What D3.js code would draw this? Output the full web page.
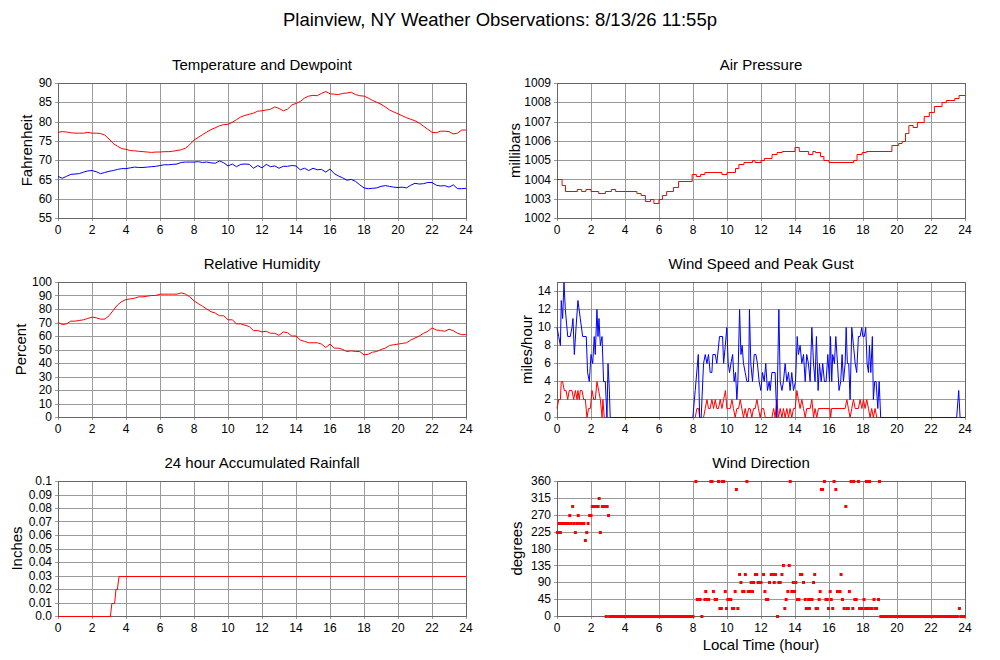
<!DOCTYPE html>
<html>
<head>
<meta charset="utf-8">
<script src="https://cdn.jsdelivr.net/npm/d3@7"></script>
<style>
  body { margin: 0; background: #fff; }
  text { font-family: "Liberation Sans", Arial, Helvetica, sans-serif; fill: #000; }
</style>
</head>
<body>
<svg id="chart" width="1000" height="660"></svg>
<script>
// ---- data (hours of local time) ----
const hourTicks = [0, 2, 4, 6, 8, 10, 12, 14, 16, 18, 20, 22, 24];

const quarterHours = [0, 0.25, 0.5, 0.75, 1, 1.25, 1.5, 1.75, 2, 2.25, 2.5, 2.75, 3, 3.25, 3.5, 3.75,
  4, 4.25, 4.5, 4.75, 5, 5.25, 5.5, 5.75, 6, 6.25, 6.5, 6.75, 7, 7.25, 7.5, 7.75,
  8, 8.25, 8.5, 8.75, 9, 9.25, 9.5, 9.75, 10, 10.25, 10.5, 10.75, 11, 11.25, 11.5, 11.75,
  12, 12.25, 12.5, 12.75, 13, 13.25, 13.5, 13.75, 14, 14.25, 14.5, 14.75, 15, 15.25, 15.5, 15.75,
  16, 16.25, 16.5, 16.75, 17, 17.25, 17.5, 17.75, 18, 18.25, 18.5, 18.75, 19, 19.25, 19.5, 19.75,
  20, 20.25, 20.5, 20.75, 21, 21.25, 21.5, 21.75, 22, 22.25, 22.5, 22.75, 23, 23.25, 23.5, 23.75, 24];

const temperature = [77.2, 77.4, 77.3, 77.1, 77.0, 77.0, 77.0, 77.2, 77.0, 77.0, 76.9, 76.5, 75.5, 74.3, 73.6, 73.0,
  72.8, 72.5, 72.4, 72.3, 72.2, 72.1, 72.0, 72.1, 72.1, 72.2, 72.2, 72.3, 72.5, 72.7, 73.1, 74.0,
  75.2, 75.9, 76.6, 77.3, 77.9, 78.4, 78.9, 79.2, 79.3, 79.8, 80.5, 81.2, 81.6, 81.9, 82.2, 82.7,
  82.8, 83.0, 83.2, 83.8, 83.4, 82.8, 83.2, 84.3, 84.7, 85.2, 86.1, 86.6, 86.8, 86.7, 87.3, 87.8,
  87.2, 87.1, 87.0, 87.3, 87.4, 87.6, 87.0, 86.7, 86.6, 86.1, 85.5, 85.0, 84.5, 83.8, 83.0, 82.5,
  82.0, 81.5, 81.0, 80.6, 80.2, 79.6, 78.8, 78.0, 77.2, 77.1, 77.5, 77.5, 77.4, 76.8, 77.0, 77.8, 77.8];

const dewpoint = [65.8, 65.3, 65.8, 66.3, 66.4, 66.5, 66.9, 67.2, 67.3, 67.0, 66.5, 66.8, 67.1, 67.3, 67.6, 67.8,
  67.8, 68.0, 68.2, 68.1, 68.1, 68.2, 68.3, 68.4, 68.6, 68.8, 68.8, 68.9, 69.0, 69.4, 69.5, 69.5,
  69.5, 69.6, 69.4, 69.5, 69.3, 69.2, 69.8, 69.3, 68.5, 69.0, 68.3, 68.9, 69.0, 68.9, 67.9, 68.6,
  68.0, 68.9, 68.3, 68.5, 67.9, 68.4, 68.4, 68.6, 68.5, 67.5, 67.9, 67.3, 67.9, 67.5, 67.6, 66.9,
  67.7, 66.5, 65.9, 65.4, 64.8, 65.0, 64.5, 63.6, 62.8, 62.6, 62.7, 62.8, 63.2, 63.4, 63.2, 63.0,
  62.9, 63.0, 62.8, 63.5, 64.0, 63.8, 63.9, 64.2, 64.2, 63.5, 63.3, 63.4, 63.0, 63.6, 62.6, 62.6, 62.7];

const humidity = [70, 68.5, 69, 71, 71, 71.5, 72, 73, 74, 73.5, 72.5, 72.5, 75, 79, 83, 85.5,
  87, 87.5, 88, 89, 89, 89.5, 90, 90, 91, 91, 91, 91, 91, 92, 91, 89,
  86, 84, 82, 80, 78, 77, 75, 75, 72, 72, 69, 69, 68, 67, 64, 64,
  63, 63.5, 62, 62, 60.5, 63, 62.5, 60, 60, 57, 56, 55, 55, 55, 54, 51.5,
  54, 51, 51, 50, 48.5, 49, 48.5, 48.5, 46, 46.5, 48, 48.5, 50, 51, 53, 53.5,
  54, 54.5, 55, 57, 58.5, 60, 62, 63.5, 66, 64.5, 64, 63.5, 65, 64, 62, 61, 61];

// pressure changes (step after)
const pressureTimes = [0, 0.3, 0.5, 1.2, 1.45, 1.7, 2.0, 2.45, 2.85, 3.2, 3.45, 4.7, 4.95, 5.2, 5.5, 5.7, 6.0, 6.2,
  6.45, 6.85, 7.15, 7.95, 8.2, 8.45, 8.7, 9.7, 10.0, 10.5, 10.7, 11.0, 11.5, 11.65, 12.0, 12.2, 12.65, 12.95,
  13.25, 14.0, 14.25, 14.8, 15.05, 15.2, 15.5, 15.7, 16.0, 17.45, 17.65, 17.95, 18.2, 19.7, 20.1, 20.3, 20.5,
  20.7, 20.95, 21.2, 21.6, 21.9, 22.2, 22.65, 22.9, 23.4, 23.65, 24];
const pressure = [1004.0, 1003.7, 1003.4, 1003.5, 1003.4, 1003.5, 1003.4, 1003.3, 1003.4, 1003.5, 1003.4, 1003.3,
  1003.2, 1002.9, 1003.0, 1002.8, 1003.0, 1003.2, 1003.4, 1003.6, 1003.9, 1004.3, 1004.2, 1004.3, 1004.4, 1004.3,
  1004.4, 1004.6, 1004.8, 1004.9, 1005.0, 1004.9, 1005.0, 1005.1, 1005.3, 1005.4, 1005.5, 1005.7, 1005.5, 1005.3,
  1005.5, 1005.4, 1005.2, 1005.0, 1004.9, 1005.0, 1005.3, 1005.4, 1005.5, 1005.8, 1005.9, 1006.0, 1006.4, 1006.8,
  1006.7, 1007.0, 1007.3, 1007.5, 1007.8, 1008.0, 1008.1, 1008.2, 1008.4, 1008.4];

const gustTimes = [0, 0.10, 0.20, 0.25, 0.33, 0.41, 0.49, 0.63, 0.78, 0.88, 0.94, 1.02, 1.12, 1.23, 1.37, 1.51, 1.72,
  1.80, 1.90, 2.00, 2.10, 2.19, 2.25, 2.35, 2.41, 2.47, 2.55, 2.65, 2.74, 2.84, 2.94, 3.00, 3.08, 3.13,
  7.99, 8.13, 8.31, 8.39, 8.48, 8.62, 8.72, 8.82, 8.91, 9.01, 9.11, 9.17, 9.31, 9.40, 9.56, 9.74, 9.80, 9.90,
  9.99, 10.07, 10.15, 10.23, 10.33, 10.42, 10.50, 10.58, 10.64, 10.74, 10.82, 10.89, 10.97, 11.07, 11.17,
  11.27, 11.32, 11.40, 11.50, 11.60, 11.70, 11.79, 11.89, 11.99, 12.09, 12.19, 12.28, 12.38, 12.48, 12.54,
  12.64, 12.83, 12.93, 13.05, 13.13, 13.23, 13.32, 13.42, 13.52, 13.62, 13.71, 13.81, 13.91, 14.03, 14.13,
  14.20, 14.30, 14.40, 14.50, 14.60, 14.69, 14.79, 14.89, 14.99, 15.09, 15.18, 15.26, 15.36, 15.44, 15.54,
  15.63, 15.73, 15.83, 15.93, 16.03, 16.09, 16.16, 16.22, 16.32, 16.40, 16.50, 16.59, 16.69, 16.77, 16.85,
  16.95, 17.01, 17.08, 17.16, 17.24, 17.34, 17.44, 17.54, 17.63, 17.73, 17.83, 17.93, 17.99, 18.08, 18.16,
  18.24, 18.32, 18.38, 18.46, 18.55, 18.61, 18.69, 18.77, 18.87, 18.95, 19.04, 23.51, 23.63, 23.71, 24];
const gust = [10, 9, 8, 13, 11, 15, 12, 9, 9, 10, 11, 7, 10, 13, 11, 9, 9,
  5, 4, 7, 6, 9, 7, 12, 9, 11, 8, 9, 4, 4, 0, 6, 3, 0,
  0, 3, 7, 0, 0, 6, 7, 6, 7, 5, 5, 7, 7, 6, 9, 9, 6, 8,
  10, 6, 5, 6, 7, 4, 5, 2, 4, 12, 7, 8, 6, 5, 4,
  4, 12, 6, 4, 7, 7, 6, 4, 3, 5, 4, 6, 3, 4, 3,
  5, 5, 0, 12, 4, 3, 4, 6, 4, 5, 3, 5, 3, 4, 9,
  7, 8, 6, 7, 4, 7, 6, 4, 10, 6, 4, 9, 3, 6, 4,
  6, 4, 4, 7, 4, 9, 4, 7, 6, 9, 6, 3, 4, 7, 4,
  6, 10, 6, 6, 2, 10, 8, 6, 5, 9, 9, 10, 9, 9, 10,
  6, 5, 8, 5, 9, 2, 4, 4, 1, 4, 0, 0, 3, 0, 0];

const speedTimes = [0, 0.10, 0.20, 0.25, 0.33, 0.43, 0.53, 0.63, 0.72, 0.88, 0.98, 1.08, 1.18, 1.23, 1.31, 1.37,
  1.47, 1.57, 1.67, 1.76, 1.86, 1.96, 2.06, 2.16, 2.25, 2.35, 2.45, 2.55, 2.65, 2.70, 2.78,
  8.13, 8.23, 8.33, 8.39, 8.62, 8.72, 8.82, 8.91, 9.01, 9.11, 9.21, 9.31, 9.40, 9.50, 9.60, 9.70, 9.80, 9.91,
  9.99, 10.09, 10.19, 10.29, 10.38, 10.48, 10.58, 10.68, 10.78, 10.87, 10.97, 11.07, 11.17, 11.27, 11.36,
  11.46, 11.56, 11.66, 11.76, 11.85, 11.95, 12.05, 12.15, 12.25, 12.64, 12.74, 12.83, 12.93, 13.03, 13.13,
  13.23, 13.32, 13.42, 13.52, 13.62, 13.71, 13.81, 13.91, 14.01, 14.11, 14.20, 14.30, 14.40, 14.50, 14.60,
  14.69, 14.89, 14.99, 15.09, 15.18, 15.28, 15.38, 16.05, 16.10, 16.15, 16.95, 17.05, 17.14, 17.24, 17.34,
  17.44, 17.54, 17.73, 17.83, 17.93, 18.03, 18.12, 18.22, 18.32, 18.42, 18.51, 18.61, 18.71, 18.81, 18.91, 24];
const speed = [1, 2, 2, 4, 4, 3, 3, 2, 3, 3, 2, 3, 2, 3, 2, 3,
  3, 2, 2, 0, 1, 1, 3, 2, 2, 4, 3, 2, 0, 2, 0,
  0, 1, 1, 0, 0, 1, 2, 1, 1, 2, 1, 2, 1, 1, 2, 1, 2, 3,
  1, 1, 1, 2, 1, 0, 1, 1, 2, 1, 0, 1, 0, 1, 1,
  0, 1, 1, 2, 1, 0, 1, 1, 0, 0, 1, 0, 2, 0, 1,
  0, 1, 0, 1, 0, 1, 0, 1, 1, 3, 2, 1, 2, 1, 0,
  1, 1, 2, 0, 1, 0, 1, 1, 0, 1, 1, 2, 1, 0, 1,
  2, 1, 1, 2, 1, 2, 1, 2, 1, 0, 1, 0, 1, 0, 0, 0];

const rainTimes = [0, 3.08, 3.17, 3.33, 3.41, 3.49, 3.59, 24];
const rain = [0, 0, 0.01, 0.01, 0.02, 0.02, 0.03, 0.03];

const directionTimes = [0.03, 0.12, 0.2, 0.25, 0.33, 0.42, 0.5, 0.58, 0.67, 0.75, 0.83, 0.92, 1.0, 1.08, 1.17, 1.25,
  1.33, 1.42, 1.5, 1.58, 1.67, 1.75, 1.83, 1.92, 2.0, 2.08, 2.17, 2.25, 2.33, 2.42, 2.48, 2.55, 2.67, 2.75,
  2.83, 2.95, 3.03,
  8.17, 8.25, 8.33, 8.42, 8.7, 8.75, 8.83, 8.92, 9.05, 9.12, 9.2, 9.3, 9.38, 9.5, 9.58, 9.67, 9.72, 9.8, 9.9,
  9.97, 10.05, 10.13, 10.22, 10.32, 10.4, 10.48, 10.55, 10.64, 10.74, 10.82, 10.92, 11.0, 11.08, 11.17, 11.25,
  11.33, 11.42, 11.5, 11.56, 11.67, 11.75, 11.83, 11.92, 12.0, 12.15, 12.23, 12.32, 12.4, 12.5, 12.6, 12.68,
  12.78, 12.85, 13.05, 13.13, 13.23, 13.32, 13.4, 13.48, 13.58, 13.66, 13.72, 13.81, 13.9, 13.97, 14.05, 14.15,
  14.23, 14.32, 14.4, 14.5, 14.6, 14.66, 14.74, 14.8, 14.85, 14.93, 15.0, 15.09, 15.16, 15.24, 15.32, 15.42,
  15.48, 15.55, 15.62, 15.73, 15.82, 15.9, 15.97, 16.07, 16.13, 16.22, 16.3, 16.4, 16.5, 16.58, 16.65, 16.71,
  16.79, 16.89, 16.99, 17.05, 17.14, 17.2, 17.3, 17.4, 17.45, 17.52, 17.6, 17.73, 17.8, 17.87, 17.95, 18.06,
  18.15, 18.2, 18.3, 18.38, 18.45, 18.53, 18.65, 18.72, 18.8, 18.91, 18.97, 23.67];
const direction = [225, 247.5, 225, 247.5, 247.5, 247.5, 247.5, 247.5, 247.5, 270, 247.5, 292.5, 247.5, 225, 247.5, 270,
  247.5, 247.5, 247.5, 247.5, 202.5, 225, 247.5, 270, 270, 292.5, 292.5, 292.5, 292.5, 292.5, 315, 225, 292.5, 292.5,
  292.5, 292.5, 270,
  360, 45, 45, 45, 45, 67.5, 45, 45, 360, 360, 67.5, 45, 45, 360, 22.5, 22.5, 360, 360, 67.5,
  22.5, 45, 45, 45, 22.5, 22.5, 67.5, 337.5, 22.5, 112.5, 90, 67.5, 67.5, 112.5, 360, 67.5,
  67.5, 90, 67.5, 90, 112.5, 112.5, 90, 90, 90, 112.5, 67.5, 45, 45, 90, 112.5, 112.5,
  90, 112.5, 90, 90, 112.5, 135, 22.5, 45, 67.5, 135, 360, 67.5, 90, 67.5, 90, 45,
  45, 112.5, 112.5, 90, 45, 22.5, 22.5, 45, 22.5, 45, 45, 90, 112.5, 22.5, 22.5, 45,
  67.5, 337.5, 337.5, 360, 45, 45, 22.5, 67.5, 45, 22.5, 360, 337.5, 67.5, 67.5, 67.5, 112.5,
  45, 22.5, 292.5, 22.5, 22.5, 67.5, 360, 22.5, 360, 45, 45, 360, 22.5, 22.5, 22.5, 45,
  22.5, 360, 22.5, 360, 22.5, 22.5, 45, 22.5, 22.5, 45, 360, 22.5];

// calm reports, plotted at 0 degrees
const calmTimes = [2.9, 3.1, 3.2, 3.3, 3.4, 3.5, 3.6, 3.7, 3.8, 3.9, 4.0, 4.1, 4.2, 4.3, 4.4, 4.5, 4.6, 4.7, 4.8, 4.9,
  5.0, 5.1, 5.2, 5.3, 5.4, 5.5, 5.6, 5.7, 5.8, 5.9, 6.0, 6.1, 6.2, 6.3, 6.4, 6.5, 6.6, 6.7, 6.8, 6.9,
  7.0, 7.1, 7.2, 7.3, 7.4, 7.5, 7.6, 7.7, 7.8, 7.9, 8.0, 8.52, 12.97,
  19.05, 19.15, 19.25, 19.35, 19.45, 19.55, 19.65, 19.75, 19.85, 19.95, 20.05, 20.15, 20.25, 20.35, 20.45,
  20.55, 20.65, 20.75, 20.85, 20.95, 21.05, 21.15, 21.25, 21.35, 21.45, 21.55, 21.65, 21.75, 21.85, 21.95,
  22.05, 22.15, 22.25, 22.35, 22.45, 22.55, 22.65, 22.75, 22.85, 22.95, 23.05, 23.15, 23.25, 23.35, 23.45,
  23.55, 23.75, 23.85, 23.95];

const tempTicks = [55, 60, 65, 70, 75, 80, 85, 90];
const pressureTicks = [1002, 1003, 1004, 1005, 1006, 1007, 1008, 1009];
const humidityTicks = [0, 10, 20, 30, 40, 50, 60, 70, 80, 90, 100];
const windTicks = [0, 2, 4, 6, 8, 10, 12, 14];
const rainTicks = [0, 0.01, 0.02, 0.03, 0.04, 0.05, 0.06, 0.07, 0.08, 0.09, 0.1];
const rainTickLabels = ["0.0", "0.01", "0.02", "0.03", "0.04", "0.05", "0.06", "0.07", "0.08", "0.09", "0.1"];
const directionTicks = [0, 45, 90, 135, 180, 225, 270, 315, 360];

// ---- layout ----
const svg = d3.select("#chart");
const plotW = 408, plotH = 135;
const colX = [58, 557];
const rowY = [83, 282, 481];
const gridColor = "#9a9a9a";
const px = v => Math.round(v) + 0.5;

svg.append("text")
  .attr("x", 500).attr("y", 20).attr("dy", "0.35em")
  .attr("text-anchor", "middle").style("font-size", "18.5px")
  .text("Plainview, NY Weather Observations: 8/13/26 11:55p");

function panel(col, row, title, domain, ticks, label, labelOffset, tickText) {
  const x0 = colX[col], y0 = rowY[row];
  const g = svg.append("g").attr("transform", `translate(${x0},${y0})`);
  const xs = d3.scaleLinear().domain([0, 24]).range([0, plotW]);
  const ys = d3.scaleLinear().domain(domain).range([plotH, 0]);

  g.append("text")
    .attr("x", plotW / 2).attr("y", -18).attr("dy", "0.35em")
    .attr("text-anchor", "middle").style("font-size", "15px")
    .text(title);

  // grid
  g.append("g").selectAll("line").data(hourTicks).join("line")
    .attr("x1", d => px(xs(d))).attr("x2", d => px(xs(d)))
    .attr("y1", 0).attr("y2", plotH + 3)
    .attr("stroke", gridColor).attr("stroke-width", 1);
  g.append("g").selectAll("line").data(ticks).join("line")
    .attr("x1", -3).attr("x2", plotW)
    .attr("y1", d => px(ys(d))).attr("y2", d => px(ys(d)))
    .attr("stroke", gridColor).attr("stroke-width", 1);
  g.append("rect")
    .attr("x", 0.5).attr("y", 0.5).attr("width", plotW).attr("height", plotH)
    .attr("fill", "none").attr("stroke", "#666");

  // tick labels
  g.append("g").selectAll("text").data(hourTicks).join("text")
    .attr("x", d => xs(d)).attr("y", plotH + 12).attr("dy", "0.35em")
    .attr("text-anchor", "middle").style("font-size", "12px")
    .text(d => d);
  g.append("g").selectAll("text").data(ticks).join("text")
    .attr("x", -6).attr("y", d => ys(d)).attr("dy", "0.35em")
    .attr("text-anchor", "end").style("font-size", "12px")
    .text((d, i) => tickText ? tickText[i] : d);

  g.append("text")
    .attr("transform", `translate(${-labelOffset},${plotH / 2}) rotate(-90)`)
    .attr("dy", "0.35em").attr("text-anchor", "middle").style("font-size", "15px")
    .text(label);

  return { g, xs, ys };
}

// snap: put flat runs on the pixel grid so they sit on the gridlines like the original
function drawLine(p, times, values, color, curve, snap) {
  const line = d3.line()
    .x(d => p.xs(d[0]))
    .y(d => snap ? px(p.ys(d[1])) : p.ys(d[1]))
    .curve(curve || d3.curveLinear);
  p.g.append("path")
    .datum(d3.zip(times, values))
    .attr("d", line)
    .attr("fill", "none").attr("stroke", color).attr("stroke-width", 1);
}

const pTemp = panel(0, 0, "Temperature and Dewpoint", [55, 90], tempTicks, "Fahrenheit", 31);
drawLine(pTemp, quarterHours, temperature, "#ff0000");
drawLine(pTemp, quarterHours, dewpoint, "#0000ff");

const pPress = panel(1, 0, "Air Pressure", [1002, 1009], pressureTicks, "millibars", 42);
drawLine(pPress, pressureTimes, pressure, "#ff0000", d3.curveStepAfter, true);

const pHum = panel(0, 1, "Relative Humidity", [0, 100], humidityTicks, "Percent", 37);
drawLine(pHum, quarterHours, humidity, "#ff0000");

const pWind = panel(1, 1, "Wind Speed and Peak Gust", [0, 15], windTicks, "miles/hour", 30);
drawLine(pWind, speedTimes, speed, "#ff0000", null, true);
drawLine(pWind, gustTimes, gust, "#0000ff", null, true);

const pRain = panel(0, 2, "24 hour Accumulated Rainfall", [0, 0.1], rainTicks, "Inches", 41, rainTickLabels);
drawLine(pRain, rainTimes, rain, "#ff0000", null, true);

const pDir = panel(1, 2, "Wind Direction", [0, 360], directionTicks, "degrees", 40);
pDir.g.append("g").selectAll("rect")
  .data(d3.zip(directionTimes, direction).concat(calmTimes.map(t => [t, 0])))
  .join("rect")
  .attr("x", d => pDir.xs(d[0]) - 1.5).attr("y", d => Math.round(pDir.ys(d[1])) - 1)
  .attr("width", 3).attr("height", 3)
  .attr("fill", "#ff0000");

svg.append("text")
  .attr("x", colX[1] + plotW / 2).attr("y", 645).attr("dy", "0.35em")
  .attr("text-anchor", "middle").style("font-size", "15px")
  .text("Local Time (hour)");
</script>
</body>
</html>
